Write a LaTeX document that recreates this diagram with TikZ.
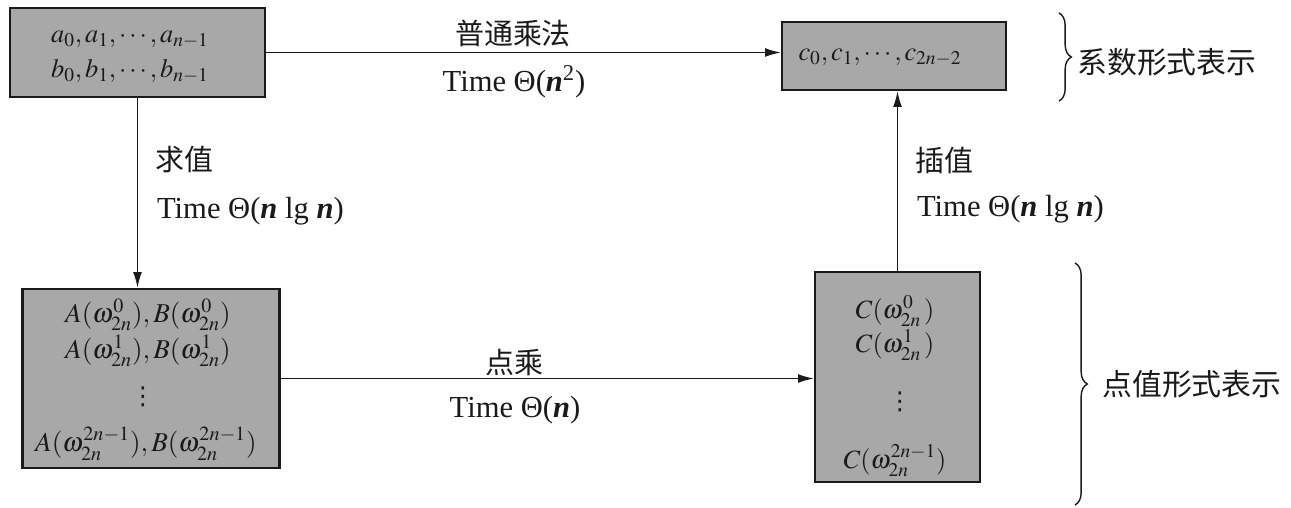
\documentclass[tikz,border=0pt]{standalone}
\usepackage{mathptmx}
\usepackage{fontspec}
\setmainfont{Liberation Serif}
\newfontfamily\cjk{Noto Sans CJK SC}
\newfontfamily\dvs{DejaVu Sans}
\usetikzlibrary{arrows.meta,decorations.pathreplacing}
\definecolor{boxgray}{HTML}{A8A8A8}
\definecolor{ink}{HTML}{1A1A1A}
\newcommand{\bn}{\textbf{\textit{n}}}
\begin{document}
\begin{tikzpicture}[x=0.02cm,y=-0.02cm,
  every node/.style={text=ink, font=\fontsize{15}{18}\selectfont},
  box/.style={draw=ink, line width=1.2pt, fill=boxgray, inner sep=0pt},
  arr/.style={draw=ink, line width=0.9pt, -{Latex[length=9pt,width=5pt]}},
  lbl/.style={inner sep=1pt},
  tm/.style={inner sep=1pt, font=\fontsize{17.4}{20}\selectfont},
  dots/.style={inner sep=0pt, font=\dvs\fontsize{14}{16}\selectfont},
  cn/.style={inner sep=1pt, font=\cjk\fontsize{16.5}{20}\selectfont},
  big/.style={inner sep=0pt, font=\cjk\fontsize{17}{20}\selectfont},
  brace/.style={draw=ink, line width=0.8pt, decorate, decoration={brace, amplitude=7pt}}]
\useasboundingbox (0,0) rectangle (1291,507);
% boxes
\node[box, minimum width=5.1cm, minimum height=1.78cm] (A) at (137.5,52.5) {};
\node[box, minimum width=4.48cm, minimum height=1.36cm] (C) at (894,56) {};
\node[box, minimum width=5.14cm, minimum height=3.58cm] (P) at (151,378.5) {};
\node[box, minimum width=3.3cm, minimum height=4.2cm] (Q) at (897.5,377) {};
% box texts
\node[lbl] (a1) at (130,40) {$a_0,a_1,\cdots,a_{n-1}$};
\node[lbl] (a2) at (130,71) {$b_0,b_1,\cdots,b_{n-1}$};
\node[lbl] (c1) at (880,58) {$c_0,c_1,\cdots,c_{2n-2}$};
\node[lbl, font=\fontsize{15.5}{18}\selectfont] (p1) at (148,315) {$A(\omega_{2n}^{0}),B(\omega_{2n}^{0})$};
\node[lbl, font=\fontsize{15.5}{18}\selectfont] (p2) at (148,351) {$A(\omega_{2n}^{1}),B(\omega_{2n}^{1})$};
\node[dots] (p3) at (143,397) {⋮};
\node[lbl, font=\fontsize{15.5}{18}\selectfont] (p4) at (146,444) {$A(\omega_{2n}^{2n-1}),B(\omega_{2n}^{2n-1})$};
\node[lbl] (q1) at (895,311) {$C(\omega_{2n}^{0}\,)$};
\node[lbl] (q2) at (895,345) {$C(\omega_{2n}^{1}\,)$};
\node[dots] (q3) at (900,402) {⋮};
\node[lbl] (q4) at (895,461) {$C(\omega_{2n}^{2n-1})$};
% connectors
\draw[arr] (A.east) -- (A.east -| C.west);
\draw[arr] (A.south) -- (A.south |- P.north);
\draw[arr] (Q.north) -- (Q.north |- C.south);
\draw[arr] (P.east) -- (P.east -| Q.west);
% labels
\node[cn] (l1) at (513,33) {普通乘法};
\node[tm] (l2) at (514,82) {Time Θ(\bn\textsuperscript{2})};
\node[cn, anchor=west] (l3) at (153,160) {求值};
\node[tm, anchor=west] (l4) at (155,211) {Time Θ(\bn\ lg \bn)};
\node[cn, anchor=west] (l5) at (913,160) {插值};
\node[tm, anchor=west] (l6) at (915,209) {Time Θ(\bn\ lg \bn)};
\node[cn] (l7) at (514,362) {点乘};
\node[tm] (l8) at (515,410) {Time Θ(\bn)};
% braces
\coordinate (b1t) at (1059,13);
\coordinate (b1b) at (1059,101);
\draw[brace] (b1t) -- (b1b);
\node[big, anchor=west] (t1) at (1077,62) {系数形式表示};
\coordinate (b2t) at (1075,263);
\coordinate (b2b) at (1075,505);
\draw[brace] (b2t) -- (b2b);
\node[big, anchor=west] (t2) at (1102,384) {点值形式表示};
\end{tikzpicture}
\end{document}
